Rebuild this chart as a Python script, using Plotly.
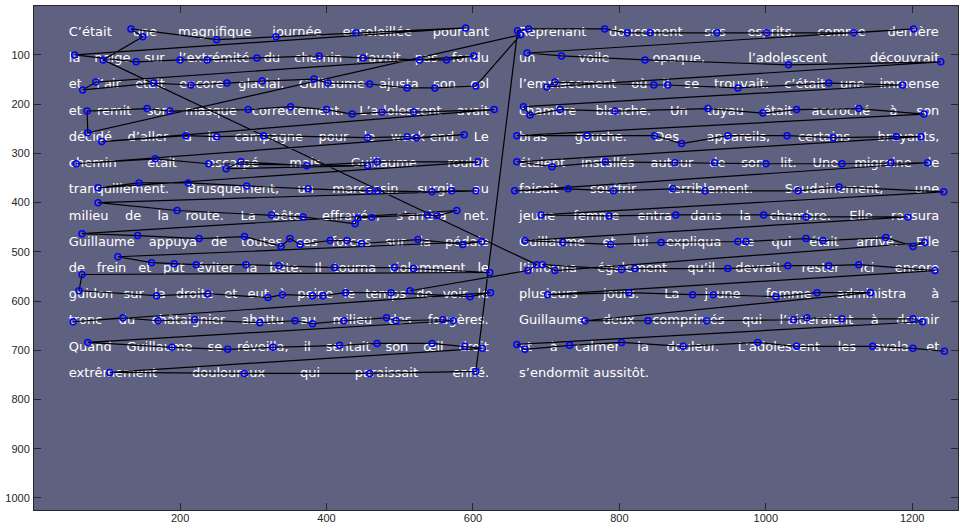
import unicodedata
import plotly.graph_objects as go

# ---------------- data: fixation scanpath (screen pixels, in order) ----------------
fix_x = [
    514, 675, 687,
    95, 149, 133, 250, 331, 440, 590,
    56, 140, 200, 237, 305, 390, 450, 527, 564, 601,
    85, 67, 164, 215, 264, 312, 383, 402, 459, 510, 548, 604,
    665,
    74,
    73, 155, 186, 293, 351, 400, 435, 476, 519, 629,
    93, 208, 250, 314, 456, 510, 523, 588,
    58, 166, 239, 456, 263, 283, 373, 469, 607,
    88, 144, 211, 291, 375, 459, 470, 544, 571, 604,
    88, 196, 325, 368, 439, 443, 462, 538, 551, 578,
    66, 142, 226, 288, 338, 350, 364, 405, 428, 448, 525, 586, 612,
    115, 161, 192, 222, 290, 335, 411, 493, 519, 623, 66,
    62, 168, 238, 320, 340, 381, 395, 426, 488, 596, 624,
    54, 122, 170, 220, 309, 357, 381, 424, 482, 495, 559, 573,
    74, 189, 265, 327, 418, 469, 544, 589, 613,
    104, 288, 459, 604,
    661, 676, 780, 811, 842, 933, 1001, 1120, 1202,
    674, 721, 835, 1031, 1239,
    701, 712, 847, 866, 962, 1086, 1187,
    669, 678, 719, 794, 921, 996, 1042, 1127, 1216,
    660, 756, 848, 885, 948, 1029, 1092, 1178, 1212,
    660, 708, 781, 876, 930, 1000, 1104, 1171, 1221,
    657, 730, 792, 873, 917, 1044, 1100, 1243,
    693, 786, 877, 997, 1055, 1194,
    671, 723, 788, 857, 962, 973, 1055, 1078, 1164, 1201, 1217,
    712, 695, 803, 821, 948, 1030, 1086, 1127, 1231,
    702, 813, 900, 928, 1014, 1070, 1143,
    753, 839, 919, 1038, 1056, 1104, 1201, 1214,
    660, 671, 732, 803, 887, 989, 1042, 1146, 1201, 1244,
]
fix_y = [
    579, 538, 526,
    110, 63, 47, 69, 63, 55, 45,
    100, 114, 110, 110, 106, 102, 106, 110, 110, 102,
    155, 171, 157, 161, 157, 153, 149, 157, 159, 167, 167, 163,
    59,
    258,
    214, 209, 214, 211, 205, 211, 220, 216, 216, 211,
    276, 264, 266, 264, 268, 266, 268, 262,
    321, 311, 321, 325, 331, 317, 325, 317, 317,
    370, 360, 360, 366, 372, 376, 376, 378, 376, 376,
    400, 416, 425, 429, 443, 431, 429, 425, 427, 416,
    463, 467, 473, 469, 489, 473, 485, 477, 477, 483, 475, 485, 479,
    510, 522, 524, 526, 526, 528, 532, 532, 534, 542, 546,
    579, 589, 585, 593, 587, 589, 589, 583, 583, 591, 583,
    642, 634, 640, 638, 644, 640, 646, 640, 634, 640, 638, 640,
    684, 694, 698, 694, 690, 686, 686, 692, 696,
    745, 747, 747, 743,
    51, 47, 47, 55, 55, 55, 55, 55, 47,
    96, 102, 110, 120, 114,
    165, 155, 161, 161, 167, 157, 161,
    205, 222, 211, 214, 209, 218, 211, 209, 220,
    264, 264, 264, 280, 264, 264, 268, 266, 266,
    317, 327, 317, 319, 319, 321, 321, 319, 319,
    376, 372, 376, 372, 376, 376, 368, 378,
    425, 427, 425, 425, 429, 429,
    477, 481, 485, 481, 479, 479, 473, 477, 471, 489, 481,
    538, 526, 536, 534, 534, 528, 528, 526, 538,
    587, 583, 587, 587, 591, 583, 583,
    640, 640, 640, 638, 634, 636, 636, 642,
    688, 698, 690, 684, 692, 684, 692, 692, 696, 702,
]

# ---------------- data: stimulus text ----------------
left_lines = [
    "C’était une magnifique journée ensoleillée pourtant",
    "la neige sur l’extrémité du chemin n’avait pas fondu",
    "et l’air était encore glacial. Guillaume ajusta son col",
    "et remit son masque correctement. L’adolescent avait",
    "décidé d’aller à la campagne pour le week-end. Le",
    "chemin était escarpé mais Guillaume roulait",
    "tranquillement. Brusquement, un marcassin surgit au",
    "milieu de la route. La bête, effrayée, s’arrêta net.",
    "Guillaume appuya de toutes ses forces sur la pédale",
    "de frein et put éviter la bête. Il tourna violemment le",
    "guidon sur la droite et eut à peine le temps de voir le",
    "tronc du châtaignier abattu au milieu des fougères.",
    "Quand Guillaume se réveilla, il sentait son œil droit",
    "extrêmement douloureux qui paraissait enflé.",
]
right_lines = [
    "Reprenant doucement ses esprits, comme derrière",
    "un voile opaque, l’adolescent découvrait",
    "l’emplacement où il se trouvait: c’était une immense",
    "chambre blanche. Un tuyau était accroché à son",
    "bras gauche. Des appareils, certains bruyants,",
    "étaient installés autour de son lit. Une migraine le",
    "faisait souffrir terriblement. Soudainement, une",
    "jeune femme entra dans la chambre. Elle rassura",
    "Guillaume et lui expliqua ce qui était arrivé. Elle",
    "l’informa également qu’il devrait rester ici encore",
    "plusieurs jours. La jeune femme administra à",
    "Guillaume deux comprimés qui l’aideraient à dormir",
    "et à calmer la douleur. L’adolescent les avala et",
    "s’endormit aussitôt.",
]
left_justify = [True] * 14
right_justify = [True] * 13 + [False]

x_ticks = [200, 400, 600, 800, 1000, 1200]
y_ticks = [100, 200, 300, 400, 500, 600, 700, 800, 900, 1000]

# ---------------- layout constants ----------------
W, H = 962, 523
M = dict(l=34, r=4, t=6, b=13, pad=0)
X_RANGE = [0.5, 1262.5]
Y_RANGE = [1024.5, 0.5]
FONT_PX = 13
LINE_Y0, LINE_DY = 55.0, 53.25
LEFT_COL = (48.0, 622.0)
RIGHT_COL = (663.0, 1237.0)
px_to_x = (X_RANGE[1] - X_RANGE[0]) / (W - M["l"] - M["r"])

# approximate DejaVu Sans advance widths (per 1000 em)
WIDTHS = {
    " ": 318, "a": 613, "b": 635, "c": 550, "d": 635, "e": 615, "f": 352, "g": 635,
    "h": 634, "i": 278, "j": 278, "k": 579, "l": 278, "m": 974, "n": 634, "o": 612,
    "p": 635, "q": 635, "r": 411, "s": 521, "t": 392, "u": 634, "v": 592, "w": 818,
    "x": 592, "y": 592, "z": 525, ".": 318, ",": 318, ":": 337, "-": 361, "’": 318,
    "C": 698, "D": 770, "E": 632, "G": 775, "L": 557, "Q": 787, "R": 695, "S": 635,
    "U": 732, "I": 295, "B": 686, "œ": 1042,
}


def text_px(s):
    total = 0
    for ch in s:
        w = WIDTHS.get(ch)
        if w is None:
            w = WIDTHS.get(unicodedata.normalize("NFD", ch)[0], 600)
        total += w
    return total * FONT_PX / 1000.0


def place_words(lines, col, justify):
    xs, ys, ws = [], [], []
    x0, x1 = col
    span_px = (x1 - x0) / px_to_x
    for k, (line, just) in enumerate(zip(lines, justify)):
        words = line.split(" ")
        wpx = [text_px(w) for w in words]
        if just and len(words) > 1:
            gap = (span_px - sum(wpx)) / (len(words) - 1)
        else:
            gap = text_px(" ")
        cur = x0
        for w, wp in zip(words, wpx):
            xs.append(cur)
            ys.append(LINE_Y0 + k * LINE_DY)
            ws.append(w)
            cur += (wp + gap) * px_to_x
    return xs, ys, ws


lx, ly, lw = place_words(left_lines, LEFT_COL, left_justify)
rx, ry, rw = place_words(right_lines, RIGHT_COL, right_justify)

fig = go.Figure()
fig.add_trace(go.Scatter(
    x=lx + rx, y=ly + ry, text=lw + rw, mode="text",
    textposition="middle right",
    textfont=dict(family="DejaVu Sans", size=FONT_PX, color="#ffffff"),
    hoverinfo="skip", showlegend=False,
))
fig.add_trace(go.Scatter(
    x=fix_x, y=fix_y, mode="lines+markers",
    line=dict(color="#000000", width=1.2),
    marker=dict(symbol="circle-open", size=6, color="#0000ff", line=dict(width=1.5)),
    showlegend=False,
))

axis_common = dict(
    showgrid=False, zeroline=False, showline=True, linecolor="#262626", linewidth=1,
    ticks="inside", ticklen=7, tickcolor="#262626", mirror="ticks", automargin=False,
    tickfont=dict(family="Liberation Sans, Arial", size=11, color="#262626"),
)
fig.update_xaxes(range=X_RANGE, tickvals=x_ticks, ticklabelstandoff=-2, **axis_common)
fig.update_yaxes(range=Y_RANGE, tickvals=y_ticks, ticklabelstandoff=1, **axis_common)
fig.update_layout(
    width=W, height=H, margin=M,
    plot_bgcolor="#5f6180", paper_bgcolor="#ffffff",
)
fig.write_html(
    "out.html",
    config={"displayModeBar": False},
    post_script="document.body.style.margin='0px';document.body.style.overflow='hidden';",
)
